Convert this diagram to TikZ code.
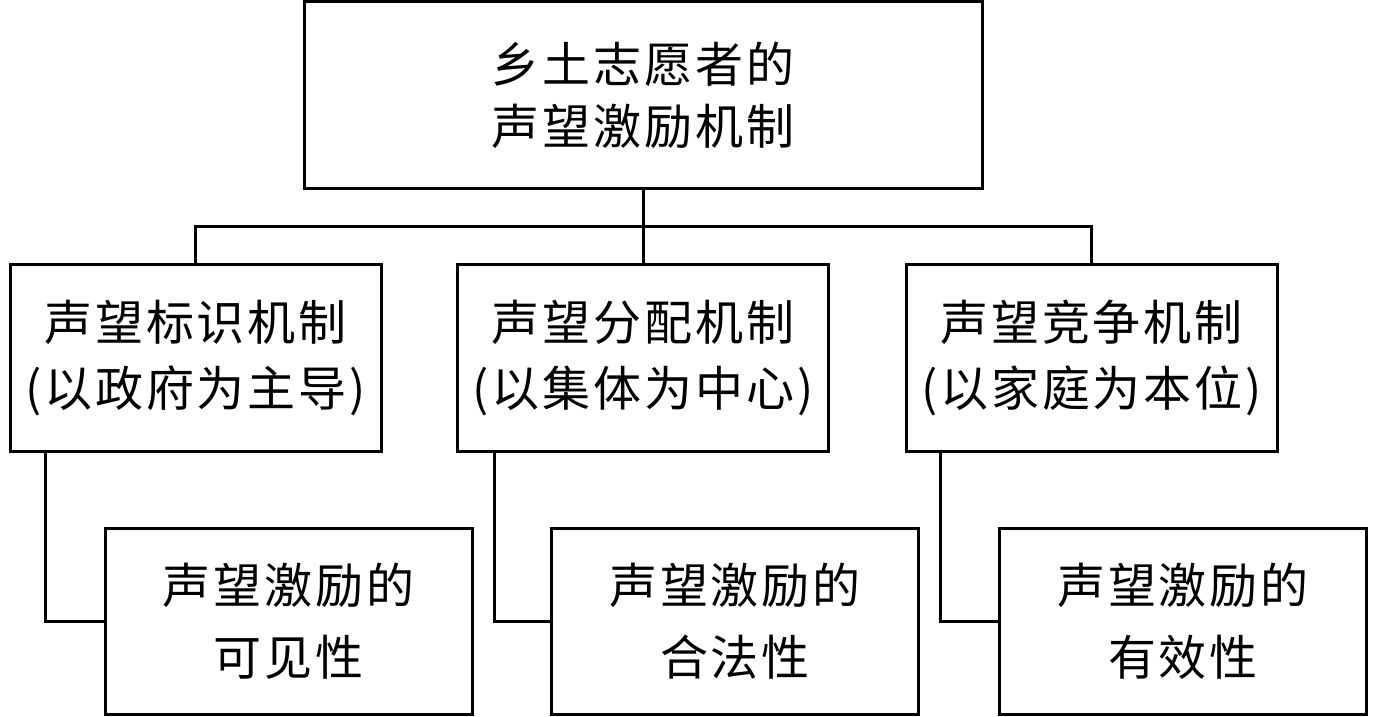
\documentclass[tikz,border=0pt]{standalone}
\usepackage{fontspec}
\newfontfamily\cjk[LetterSpace=6]{Noto Sans CJK SC}
\begin{document}
\begin{tikzpicture}[x=1pt,y=-1pt,
  box/.style={draw, line width=3pt, align=center, inner sep=0pt,
    font=\cjk\fontsize{48}{66}\selectfont},
  topbox/.style={box, minimum width=678pt, minimum height=186pt},
  midbox/.style={box, minimum width=371pt, minimum height=187pt},
  botbox/.style={box, minimum width=367pt, minimum height=186pt, font=\cjk\fontsize{48}{72}\selectfont},
  link/.style={line width=3pt}]
\useasboundingbox (0,0) rectangle (1378,717);
\node[topbox, font=\cjk\fontsize{48}{62}\selectfont] (top) at (643,95) {乡土志愿者的\\声望激励机制};
\node[midbox] (m1) at (195.5,357.5) {声望标识机制\\(以政府为主导)};
\node[midbox] (m2) at (643,357.5) {声望分配机制\\(以集体为中心)};
\node[midbox] (m3) at (1091.5,357.5) {声望竞争机制\\(以家庭为本位)};
\node[botbox] (b1) at (288.5,621) {声望激励的\\可见性};
\node[botbox] (b2) at (735,621) {声望激励的\\合法性};
\node[botbox] (b3) at (1183,621) {声望激励的\\有效性};
\coordinate (j) at (643,226);
\draw[link] (top.south) -- (j);
\draw[link] (m1.north) |- (j) -| (m3.north);
\draw[link] (j) -- (m2.north);
\draw[link] ([xshift=37pt]m1.south west) |- (b1.west);
\draw[link] ([xshift=38pt]m2.south west) |- (b2.west);
\draw[link] ([xshift=36pt]m3.south west) |- (b3.west);
\end{tikzpicture}
\end{document}
